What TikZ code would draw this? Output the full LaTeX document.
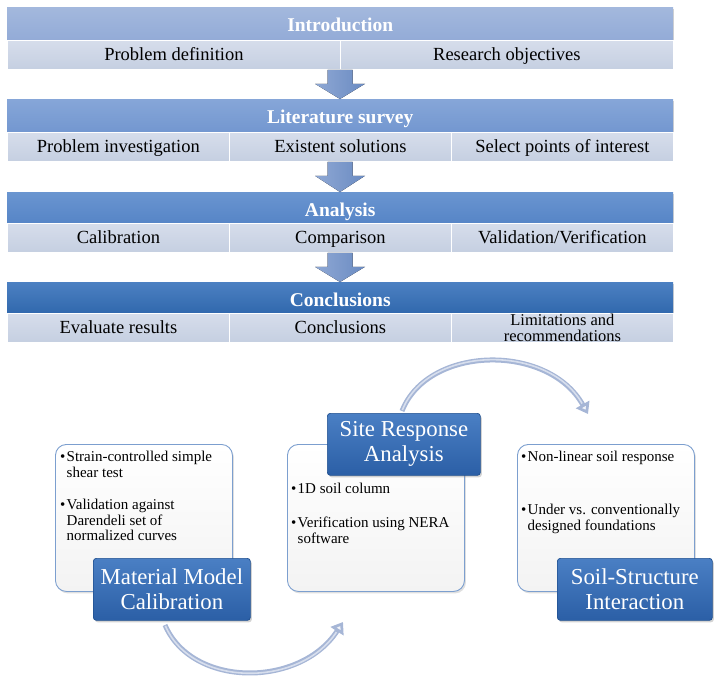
\documentclass[tikz,border=0pt]{standalone}
\usepackage{fontspec}
\setmainfont{Liberation Serif}
\usetikzlibrary{shadows,arrows.meta,calc}
\definecolor{hA}{HTML}{93ABD7}
\definecolor{hAt}{HTML}{A3B8DD}
\definecolor{hB}{HTML}{7397D0}
\definecolor{hBt}{HTML}{86A6D8}
\definecolor{hC}{HTML}{5584C6}
\definecolor{hCt}{HTML}{6A95D0}
\definecolor{hD}{HTML}{2F67AC}
\definecolor{hDt}{HTML}{4C80C2}
\definecolor{subc}{HTML}{C5CFE1}
\definecolor{subt}{HTML}{D6DDEB}
\definecolor{arrc}{HTML}{6A8BC2}
\definecolor{arrt}{HTML}{8FA8D4}
\definecolor{lblc}{HTML}{2B5FA6}
\definecolor{lblt}{HTML}{4A7FC4}
\definecolor{lbld}{HTML}{1F4F8F}
\definecolor{panb}{HTML}{7C9FCF}
\definecolor{panf}{HTML}{F3F3F3}
\definecolor{curvc}{HTML}{A6B6D6}
\tikzset{
  hdr/.style={draw=none, minimum width=666pt, minimum height=33pt, anchor=north west, inner sep=0pt,
    text=white, font=\fontsize{19.5}{21}\selectfont\bfseries, text height=17pt, text depth=1pt,
    drop shadow={opacity=0.35, shadow xshift=1pt, shadow yshift=-1.5pt}},
  cell/.style={draw=white, line width=0.8pt, top color=subt, bottom color=subc, minimum height=29pt,
    anchor=north west, inner sep=0pt, font=\fontsize{18.5}{19}\selectfont, text height=14pt, text depth=2pt},
  blockarr/.style={left color=arrt, right color=arrc, draw=none},
  panel/.style={draw=panb, line width=0.9pt, top color=white, bottom color=panf, rounded corners=11pt, minimum width=177pt,
    minimum height=147pt, anchor=north west, inner sep=0pt,
    drop shadow={opacity=0.25, shadow xshift=1.5pt, shadow yshift=-2pt}},
  lbl/.style={draw=lbld, line width=0.7pt, top color=lblt, bottom color=lblc, rounded corners=3pt,
    minimum height=62pt, anchor=north west, inner sep=0pt, text=white, align=center,
    font=\fontsize{22.8}{25}\selectfont,
    drop shadow={opacity=0.35, shadow xshift=1.5pt, shadow yshift=-2pt}},
  bul/.style={anchor=north west, inner sep=0pt, align=left, font=\fontsize{15}{15.5}\selectfont},
  curv/.style={draw=curvc, line width=5pt, -{Triangle[width=15pt,length=11pt,fill=white!85!curvc]}},
  curvhi/.style={draw=white!55!curvc, line width=1.6pt, shorten >=12pt, shorten <=1pt},
}
\newcommand{\bl}{\makebox[6.5pt][l]{•}}
\newcommand{\ind}{\hspace*{6.5pt}}
\begin{document}
\begin{tikzpicture}[x=1pt,y=-1pt]
\path[use as bounding box] (0,0) rectangle (717,678);
% ---- Introduction
\node[hdr, top color=hAt, bottom color=hA] (intro) at (7,7) {Introduction};
\node[cell, minimum width=333pt] (pd) at (7,40) {Problem definition};
\node[cell, minimum width=333pt] (ro) at (340,40) {Research objectives};
% ---- Literature survey
\node[hdr, top color=hBt, bottom color=hB] (lit) at (7,99) {Literature survey};
\node[cell, minimum width=222pt] (pi) at (7,132) {Problem investigation};
\node[cell, minimum width=222pt] (es) at (229,132) {Existent solutions};
\node[cell, minimum width=222pt] (sp) at (451,132) {Select points of interest};
% ---- Analysis
\node[hdr, top color=hCt, bottom color=hC] (ana) at (7,192) {Analysis};
\node[cell, minimum width=222pt] (cal) at (7,223) {Calibration};
\node[cell, minimum width=222pt] (cmp) at (229,223) {Comparison};
\node[cell, minimum width=222pt] (val) at (451,223) {Validation/Verification};
% ---- Conclusions
\node[hdr, top color=hDt, bottom color=hD] (conc) at (7,282) {Conclusions};
\node[cell, minimum width=222pt] (ev) at (7,313) {Evaluate results};
\node[cell, minimum width=222pt] (cn) at (229,313) {Conclusions};
\node[cell, minimum width=222pt, align=center, font=\fontsize{16.5}{16.5}\selectfont, text height=, text depth=] (lr) at (451,313) {Limitations and\\recommendations};
% ---- block arrows
\foreach \a/\b in {pd/lit, es/ana, cmp/conc}{
  \coordinate (s) at (340,0 |- \a.south);
  \coordinate (t) at (340,0 |- \b.north);
  \fill[blockarr] ($(s)+(-12.5,0)$) -- ($(s)+(12.5,0)$) -- ($(s)+(12.5,14)$) -- ($(s)+(25,14)$)
     -- (t) -- ($(s)+(-25,14)$) -- ($(s)+(-12.5,14)$) -- cycle;
}
% ---- bottom panels
\node[panel] (p1) at (55,444) {};
\node[panel] (p2) at (287,444) {};
\node[panel] (p3) at (517,444) {};
\node[bul] (b11) at (60,451) {\bl Strain-controlled simple\\\ind shear test};
\node[bul] (b12) at (60,499) {\bl Validation against\\\ind Darendeli set of\\\ind normalized curves};
\node[bul] (b21) at (291,483) {\bl 1D soil column};
\node[bul] (b22) at (291,517) {\bl Verification using NERA\\\ind software};
\node[bul] (b31) at (521,451) {\bl Non-linear soil response};
\node[bul] (b32) at (521,504) {\bl Under vs. conventionally\\\ind designed foundations};
\node[lbl, minimum width=157pt] (l1) at (93,558) {Material Model\\Calibration};
\node[lbl, minimum width=153pt] (l2) at (327,413) {Site Response\\Analysis};
\node[lbl, minimum width=155pt] (l3) at (557,558) {Soil-Structure\\Interaction};
% ---- curved arrows
\coordinate (a1s) at (165,625);
\coordinate (a1e) at (343,622);
\coordinate (a2s) at (402,411);
\coordinate (a2e) at (588,414);
\draw[curv] (a1s) .. controls (192,688) and (300,688) .. (a1e);
\draw[curvhi] (a1s) .. controls (192,688) and (300,688) .. (a1e);
\draw[curv] (a2s) .. controls (428,345) and (548,343) .. (a2e);
\draw[curvhi] (a2s) .. controls (428,345) and (548,343) .. (a2e);
\end{tikzpicture}
\end{document}
